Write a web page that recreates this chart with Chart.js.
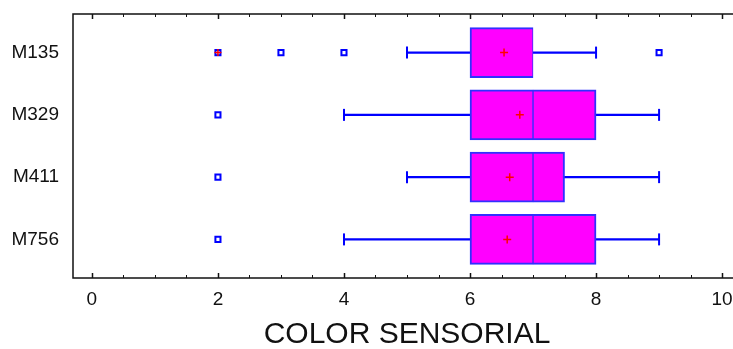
<!DOCTYPE html>
<html>
<head>
<meta charset="utf-8">
<script src="https://cdn.jsdelivr.net/npm/chart.js@4"></script>
<style>
    html, body { margin: 0; padding: 0; background: #ffffff; overflow: hidden; }
    #wrap { width: 733px; height: 349px; overflow: hidden; position: relative; }
    #wrap canvas { position: absolute; left: 0; top: 0; }
</style>
</head>
<body>
<div id="wrap"><canvas id="boxChart" width="760" height="349"></canvas></div>
<script>
const samples = ["M135", "M329", "M411", "M756"];

const whiskerLow = [5, 4, 5, 4];
const q1 = [6, 6, 6, 6];
const median = [7, 7, 7, 7];
const q3 = [7, 8, 7.5, 8];
const whiskerHigh = [8, 9, 9, 9];
const means = [6.54, 6.79, 6.63, 6.59];

// outliers as [sample index, value]
const outliers = [[0, 2], [0, 3], [0, 4], [0, 9], [1, 2], [2, 2], [3, 2]];
const farOutliers = [[0, 2]];

const xTicks = [0, 2, 4, 6, 8, 10];

const FONT = "'Liberation Sans', Arial, sans-serif";
const BLUE = "#0000ff";

const idx = samples.map((s, i) => i);

const frame = {
    id: "frame",
    afterDatasetsDraw(chart) {
        const { ctx, chartArea } = chart;
        const x = chart.scales.x;
        ctx.save();
        ctx.strokeStyle = "#111111";
        ctx.lineWidth = 1.5;
        ctx.strokeRect(chartArea.left, chartArea.top,
            chartArea.right - chartArea.left, chartArea.bottom - chartArea.top);
        // inward ticks every 0.5, longer ones at labelled values
        for (let v = 0; v <= 10; v += 0.5) {
            const px = Math.round(x.getPixelForValue(v)) + 0.5;
            const len = xTicks.includes(v) ? 5 : 3;
            ctx.lineWidth = xTicks.includes(v) ? 1.5 : 1;
            ctx.beginPath();
            ctx.moveTo(px, chartArea.top);
            ctx.lineTo(px, chartArea.top + len);
            ctx.moveTo(px, chartArea.bottom);
            ctx.lineTo(px, chartArea.bottom - len);
            ctx.stroke();
        }
        ctx.restore();
    }
};

new Chart(document.getElementById("boxChart"), {
    type: "bar",
    data: {
        datasets: [
            {
                // whisker line
                data: idx.map(i => ({ y: i, x: [whiskerLow[i], whiskerHigh[i]] })),
                backgroundColor: BLUE,
                borderWidth: 0,
                barThickness: 1.5,
                grouped: false,
                order: 5
            },
            {
                data: idx.map(i => ({ y: i, x: [q1[i], median[i]] })),
                backgroundColor: "#ff00ff",
                borderColor: "#3030ff",
                borderWidth: { top: 2, bottom: 2, left: 2, right: 1 },
                borderSkipped: false,
                barThickness: 50,
                grouped: false,
                order: 4
            },
            {
                data: idx.map(i => ({ y: i, x: [median[i], q3[i]] })),
                backgroundColor: "#ff00ff",
                borderColor: "#3030ff",
                borderWidth: { top: 2, bottom: 2, left: 1, right: 2 },
                borderSkipped: false,
                barThickness: 50,
                grouped: false,
                order: 3
            },
            {
                // whisker caps
                type: "scatter",
                data: idx.flatMap(i => [
                    { x: whiskerLow[i], y: i },
                    { x: whiskerHigh[i], y: i }
                ]),
                pointStyle: "line",
                rotation: 90,
                radius: 6,
                borderColor: BLUE,
                borderWidth: 2,
                order: 2
            },
            {
                type: "scatter",
                data: outliers.map(o => ({ x: o[1], y: o[0] })),
                pointStyle: "rect",
                radius: 3.6,
                backgroundColor: "#ffffff",
                borderColor: BLUE,
                borderWidth: 2,
                order: 1
            },
            {
                type: "scatter",
                data: farOutliers.map(o => ({ x: o[1], y: o[0] })),
                pointStyle: "cross",
                radius: 3.5,
                borderColor: "#ff0000",
                borderWidth: 1.5,
                order: 0
            },
            {
                type: "scatter",
                data: idx.map(i => ({ x: means[i], y: i })),
                pointStyle: "cross",
                radius: 4,
                borderColor: "#ff0000",
                borderWidth: 1.5,
                order: 0
            }
        ]
    },
    options: {
        indexAxis: "y",
        responsive: false,
        animation: false,
        events: [],
        layout: {
            padding: { top: 14, right: 19, left: 0, bottom: 0 }
        },
        plugins: {
            legend: { display: false },
            tooltip: { enabled: false }
        },
        scales: {
            x: {
                type: "linear",
                position: "bottom",
                min: -0.3,
                max: 10.3,
                offset: false,
                grid: { display: false, drawTicks: false },
                border: { display: false },
                afterBuildTicks(scale) {
                    scale.ticks = xTicks.map(v => ({ value: v }));
                },
                afterFit(scale) {
                    scale.height = 71;
                    scale.paddingLeft = 0;
                    scale.paddingRight = 0;
                },
                ticks: {
                    padding: 10,
                    color: "#111111",
                    font: { family: FONT, size: 19 }
                },
                title: {
                    display: true,
                    text: "COLOR SENSORIAL",
                    color: "#111111",
                    font: { family: FONT, size: 30 },
                    padding: { top: 4, bottom: -4 }
                }
            },
            y: {
                type: "linear",
                position: "left",
                reverse: true,
                offset: false,
                min: -0.62,
                max: 3.62,
                grid: { display: false, drawTicks: false, offset: false },
                border: { display: false },
                afterBuildTicks(scale) {
                    scale.ticks = idx.map(i => ({ value: i }));
                },
                afterFit(scale) {
                    scale.width = 73;
                    scale.paddingTop = 0;
                    scale.paddingBottom = 0;
                },
                ticks: {
                    padding: 14,
                    color: "#111111",
                    font: { family: FONT, size: 19 },
                    callback: (v) => samples[v]
                }
            }
        }
    },
    plugins: [frame]
});
</script>
</body>
</html>
